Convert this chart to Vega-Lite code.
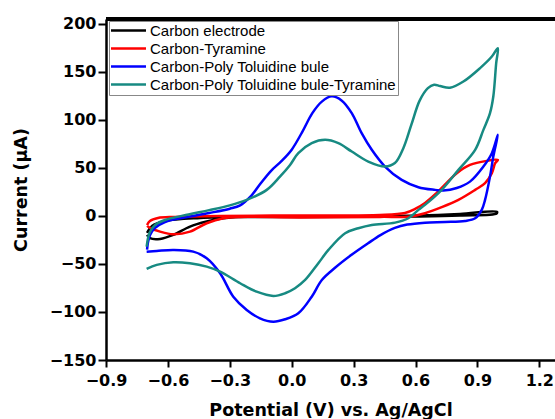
{
"$schema": "https://vega.github.io/schema/vega-lite/v6.json",
"width": 449, "height": 341,
"autosize": {"type": "none"},
"padding": {"left": 106, "top": 19, "right": 0, "bottom": 59},
"background": "white",
"config": {"view": {"stroke": null}},
"data": {"values": [
{"s":"Carbon electrode","o":1,"x":-0.701,"y":-17.7},
{"s":"Carbon electrode","o":2,"x":-0.677,"y":-10.4},
{"s":"Carbon electrode","o":3,"x":-0.614,"y":-5.2},
{"s":"Carbon electrode","o":4,"x":-0.444,"y":-2.1},
{"s":"Carbon electrode","o":5,"x":-0.154,"y":-1.0},
{"s":"Carbon electrode","o":6,"x":0.283,"y":-0.5},
{"s":"Carbon electrode","o":7,"x":0.622,"y":0.5},
{"s":"Carbon electrode","o":8,"x":0.816,"y":2.1},
{"s":"Carbon electrode","o":9,"x":0.995,"y":4.2},
{"s":"Carbon electrode","o":10,"x":0.993,"y":2.6},
{"s":"Carbon electrode","o":11,"x":0.816,"y":0.5},
{"s":"Carbon electrode","o":12,"x":0.622,"y":-0.5},
{"s":"Carbon electrode","o":13,"x":0.040,"y":-1.0},
{"s":"Carbon electrode","o":14,"x":-0.250,"y":-1.0},
{"s":"Carbon electrode","o":15,"x":-0.331,"y":-2.4},
{"s":"Carbon electrode","o":16,"x":-0.412,"y":-5.9},
{"s":"Carbon electrode","o":17,"x":-0.493,"y":-11.1},
{"s":"Carbon electrode","o":18,"x":-0.574,"y":-19.8},
{"s":"Carbon electrode","o":19,"x":-0.638,"y":-24.0},
{"s":"Carbon electrode","o":20,"x":-0.687,"y":-23.2},
{"s":"Carbon electrode","o":21,"x":-0.701,"y":-19.8},
{"s":"Carbon-Tyramine","o":1,"x":-0.701,"y":-9.4},
{"s":"Carbon-Tyramine","o":2,"x":-0.687,"y":-5.2},
{"s":"Carbon-Tyramine","o":3,"x":-0.648,"y":-2.1},
{"s":"Carbon-Tyramine","o":4,"x":-0.566,"y":-1.0},
{"s":"Carbon-Tyramine","o":5,"x":-0.347,"y":0},
{"s":"Carbon-Tyramine","o":6,"x":0.040,"y":0.5},
{"s":"Carbon-Tyramine","o":7,"x":0.428,"y":1.0},
{"s":"Carbon-Tyramine","o":8,"x":0.549,"y":3.1},
{"s":"Carbon-Tyramine","o":9,"x":0.598,"y":7.3},
{"s":"Carbon-Tyramine","o":10,"x":0.646,"y":13.5},
{"s":"Carbon-Tyramine","o":11,"x":0.703,"y":24.0},
{"s":"Carbon-Tyramine","o":12,"x":0.800,"y":44.5},
{"s":"Carbon-Tyramine","o":13,"x":0.864,"y":53.1},
{"s":"Carbon-Tyramine","o":14,"x":0.945,"y":57.3},
{"s":"Carbon-Tyramine","o":15,"x":0.999,"y":58.3},
{"s":"Carbon-Tyramine","o":16,"x":0.986,"y":54.9},
{"s":"Carbon-Tyramine","o":17,"x":0.970,"y":44.5},
{"s":"Carbon-Tyramine","o":18,"x":0.937,"y":34.1},
{"s":"Carbon-Tyramine","o":19,"x":0.889,"y":27.1},
{"s":"Carbon-Tyramine","o":20,"x":0.808,"y":16.7},
{"s":"Carbon-Tyramine","o":21,"x":0.727,"y":9.1},
{"s":"Carbon-Tyramine","o":22,"x":0.646,"y":2.8},
{"s":"Carbon-Tyramine","o":23,"x":0.574,"y":-0.5},
{"s":"Carbon-Tyramine","o":24,"x":0.428,"y":-1.0},
{"s":"Carbon-Tyramine","o":25,"x":0.040,"y":-1.6},
{"s":"Carbon-Tyramine","o":26,"x":-0.250,"y":-1.0},
{"s":"Carbon-Tyramine","o":27,"x":-0.331,"y":-2.4},
{"s":"Carbon-Tyramine","o":28,"x":-0.412,"y":-7.6},
{"s":"Carbon-Tyramine","o":29,"x":-0.493,"y":-16.4},
{"s":"Carbon-Tyramine","o":30,"x":-0.574,"y":-19.1},
{"s":"Carbon-Tyramine","o":31,"x":-0.638,"y":-16.4},
{"s":"Carbon-Tyramine","o":32,"x":-0.687,"y":-12.5},
{"s":"Carbon-Tyramine","o":33,"x":-0.701,"y":-10.4},
{"s":"Carbon-Poly Toluidine bule","o":1,"x":-0.701,"y":-35},
{"s":"Carbon-Poly Toluidine bule","o":2,"x":-0.696,"y":-27},
{"s":"Carbon-Poly Toluidine bule","o":3,"x":-0.687,"y":-20},
{"s":"Carbon-Poly Toluidine bule","o":4,"x":-0.662,"y":-12.5},
{"s":"Carbon-Poly Toluidine bule","o":5,"x":-0.614,"y":-6.3},
{"s":"Carbon-Poly Toluidine bule","o":6,"x":-0.5,"y":-1},
{"s":"Carbon-Poly Toluidine bule","o":7,"x":-0.4,"y":3},
{"s":"Carbon-Poly Toluidine bule","o":8,"x":-0.3,"y":7.5},
{"s":"Carbon-Poly Toluidine bule","o":9,"x":-0.25,"y":11},
{"s":"Carbon-Poly Toluidine bule","o":10,"x":-0.2,"y":20},
{"s":"Carbon-Poly Toluidine bule","o":11,"x":-0.15,"y":34},
{"s":"Carbon-Poly Toluidine bule","o":12,"x":-0.1,"y":47},
{"s":"Carbon-Poly Toluidine bule","o":13,"x":-0.05,"y":57},
{"s":"Carbon-Poly Toluidine bule","o":14,"x":0.0,"y":69},
{"s":"Carbon-Poly Toluidine bule","o":15,"x":0.05,"y":87},
{"s":"Carbon-Poly Toluidine bule","o":16,"x":0.1,"y":107},
{"s":"Carbon-Poly Toluidine bule","o":17,"x":0.146,"y":119},
{"s":"Carbon-Poly Toluidine bule","o":18,"x":0.194,"y":124.5},
{"s":"Carbon-Poly Toluidine bule","o":19,"x":0.243,"y":120},
{"s":"Carbon-Poly Toluidine bule","o":20,"x":0.291,"y":107},
{"s":"Carbon-Poly Toluidine bule","o":21,"x":0.339,"y":86.1},
{"s":"Carbon-Poly Toluidine bule","o":22,"x":0.388,"y":68.8},
{"s":"Carbon-Poly Toluidine bule","o":23,"x":0.452,"y":51.4},
{"s":"Carbon-Poly Toluidine bule","o":24,"x":0.533,"y":37.5},
{"s":"Carbon-Poly Toluidine bule","o":25,"x":0.614,"y":29.9},
{"s":"Carbon-Poly Toluidine bule","o":26,"x":0.695,"y":27.1},
{"s":"Carbon-Poly Toluidine bule","o":27,"x":0.735,"y":26.4},
{"s":"Carbon-Poly Toluidine bule","o":28,"x":0.800,"y":29},
{"s":"Carbon-Poly Toluidine bule","o":29,"x":0.864,"y":35.7},
{"s":"Carbon-Poly Toluidine bule","o":30,"x":0.929,"y":51.4},
{"s":"Carbon-Poly Toluidine bule","o":31,"x":0.970,"y":65.3},
{"s":"Carbon-Poly Toluidine bule","o":32,"x":0.999,"y":84.4},
{"s":"Carbon-Poly Toluidine bule","o":33,"x":0.977,"y":61.8},
{"s":"Carbon-Poly Toluidine bule","o":34,"x":0.961,"y":40.9},
{"s":"Carbon-Poly Toluidine bule","o":35,"x":0.937,"y":16.7},
{"s":"Carbon-Poly Toluidine bule","o":36,"x":0.921,"y":6.3},
{"s":"Carbon-Poly Toluidine bule","o":37,"x":0.889,"y":-2.4},
{"s":"Carbon-Poly Toluidine bule","o":38,"x":0.840,"y":-5.2},
{"s":"Carbon-Poly Toluidine bule","o":39,"x":0.743,"y":-6.3},
{"s":"Carbon-Poly Toluidine bule","o":40,"x":0.646,"y":-7.0},
{"s":"Carbon-Poly Toluidine bule","o":41,"x":0.560,"y":-9},
{"s":"Carbon-Poly Toluidine bule","o":42,"x":0.500,"y":-12.5},
{"s":"Carbon-Poly Toluidine bule","o":43,"x":0.430,"y":-20},
{"s":"Carbon-Poly Toluidine bule","o":44,"x":0.370,"y":-28.5},
{"s":"Carbon-Poly Toluidine bule","o":45,"x":0.290,"y":-40.5},
{"s":"Carbon-Poly Toluidine bule","o":46,"x":0.210,"y":-54},
{"s":"Carbon-Poly Toluidine bule","o":47,"x":0.146,"y":-66.7},
{"s":"Carbon-Poly Toluidine bule","o":48,"x":0.097,"y":-84.1},
{"s":"Carbon-Poly Toluidine bule","o":49,"x":0.032,"y":-101.4},
{"s":"Carbon-Poly Toluidine bule","o":50,"x":-0.032,"y":-107.6},
{"s":"Carbon-Poly Toluidine bule","o":51,"x":-0.089,"y":-110.1},
{"s":"Carbon-Poly Toluidine bule","o":52,"x":-0.154,"y":-106.6},
{"s":"Carbon-Poly Toluidine bule","o":53,"x":-0.218,"y":-97.9},
{"s":"Carbon-Poly Toluidine bule","o":54,"x":-0.283,"y":-84.1},
{"s":"Carbon-Poly Toluidine bule","o":55,"x":-0.347,"y":-59.7},
{"s":"Carbon-Poly Toluidine bule","o":56,"x":-0.412,"y":-44.1},
{"s":"Carbon-Poly Toluidine bule","o":57,"x":-0.477,"y":-37.2},
{"s":"Carbon-Poly Toluidine bule","o":58,"x":-0.574,"y":-35.4},
{"s":"Carbon-Poly Toluidine bule","o":59,"x":-0.654,"y":-36.5},
{"s":"Carbon-Poly Toluidine bule","o":60,"x":-0.703,"y":-37.2},
{"s":"Carbon-Poly Toluidine bule-Tyramine","o":1,"x":-0.703,"y":-32.0},
{"s":"Carbon-Poly Toluidine bule-Tyramine","o":2,"x":-0.696,"y":-22.9},
{"s":"Carbon-Poly Toluidine bule-Tyramine","o":3,"x":-0.687,"y":-16.7},
{"s":"Carbon-Poly Toluidine bule-Tyramine","o":4,"x":-0.662,"y":-9.4},
{"s":"Carbon-Poly Toluidine bule-Tyramine","o":5,"x":-0.614,"y":-4.2},
{"s":"Carbon-Poly Toluidine bule-Tyramine","o":6,"x":-0.5,"y":1.5},
{"s":"Carbon-Poly Toluidine bule-Tyramine","o":7,"x":-0.4,"y":6},
{"s":"Carbon-Poly Toluidine bule-Tyramine","o":8,"x":-0.3,"y":11},
{"s":"Carbon-Poly Toluidine bule-Tyramine","o":9,"x":-0.218,"y":16.7},
{"s":"Carbon-Poly Toluidine bule-Tyramine","o":10,"x":-0.121,"y":27.1},
{"s":"Carbon-Poly Toluidine bule-Tyramine","o":11,"x":-0.057,"y":40.9},
{"s":"Carbon-Poly Toluidine bule-Tyramine","o":12,"x":-0.008,"y":53.1},
{"s":"Carbon-Poly Toluidine bule-Tyramine","o":13,"x":0.032,"y":65.3},
{"s":"Carbon-Poly Toluidine bule-Tyramine","o":14,"x":0.097,"y":75.7},
{"s":"Carbon-Poly Toluidine bule-Tyramine","o":15,"x":0.162,"y":79.2},
{"s":"Carbon-Poly Toluidine bule-Tyramine","o":16,"x":0.226,"y":75.7},
{"s":"Carbon-Poly Toluidine bule-Tyramine","o":17,"x":0.291,"y":67.0},
{"s":"Carbon-Poly Toluidine bule-Tyramine","o":18,"x":0.371,"y":56.6},
{"s":"Carbon-Poly Toluidine bule-Tyramine","o":19,"x":0.452,"y":51.4},
{"s":"Carbon-Poly Toluidine bule-Tyramine","o":20,"x":0.50,"y":55},
{"s":"Carbon-Poly Toluidine bule-Tyramine","o":21,"x":0.54,"y":70},
{"s":"Carbon-Poly Toluidine bule-Tyramine","o":22,"x":0.58,"y":95},
{"s":"Carbon-Poly Toluidine bule-Tyramine","o":23,"x":0.62,"y":120},
{"s":"Carbon-Poly Toluidine bule-Tyramine","o":24,"x":0.66,"y":133},
{"s":"Carbon-Poly Toluidine bule-Tyramine","o":25,"x":0.690,"y":136.5},
{"s":"Carbon-Poly Toluidine bule-Tyramine","o":26,"x":0.719,"y":135.2},
{"s":"Carbon-Poly Toluidine bule-Tyramine","o":27,"x":0.767,"y":133.5},
{"s":"Carbon-Poly Toluidine bule-Tyramine","o":28,"x":0.832,"y":139.9},
{"s":"Carbon-Poly Toluidine bule-Tyramine","o":29,"x":0.913,"y":153.9},
{"s":"Carbon-Poly Toluidine bule-Tyramine","o":30,"x":0.970,"y":165.9},
{"s":"Carbon-Poly Toluidine bule-Tyramine","o":31,"x":0.999,"y":174.7},
{"s":"Carbon-Poly Toluidine bule-Tyramine","o":32,"x":0.991,"y":159.1},
{"s":"Carbon-Poly Toluidine bule-Tyramine","o":33,"x":0.977,"y":124.3},
{"s":"Carbon-Poly Toluidine bule-Tyramine","o":34,"x":0.961,"y":107.0},
{"s":"Carbon-Poly Toluidine bule-Tyramine","o":35,"x":0.929,"y":89.6},
{"s":"Carbon-Poly Toluidine bule-Tyramine","o":36,"x":0.889,"y":68.8},
{"s":"Carbon-Poly Toluidine bule-Tyramine","o":37,"x":0.808,"y":47.9},
{"s":"Carbon-Poly Toluidine bule-Tyramine","o":38,"x":0.727,"y":27.1},
{"s":"Carbon-Poly Toluidine bule-Tyramine","o":39,"x":0.646,"y":11.5},
{"s":"Carbon-Poly Toluidine bule-Tyramine","o":40,"x":0.614,"y":6.3},
{"s":"Carbon-Poly Toluidine bule-Tyramine","o":41,"x":0.565,"y":-2.4},
{"s":"Carbon-Poly Toluidine bule-Tyramine","o":42,"x":0.501,"y":-7.0},
{"s":"Carbon-Poly Toluidine bule-Tyramine","o":43,"x":0.388,"y":-9.4},
{"s":"Carbon-Poly Toluidine bule-Tyramine","o":44,"x":0.323,"y":-12.8},
{"s":"Carbon-Poly Toluidine bule-Tyramine","o":45,"x":0.259,"y":-18.0},
{"s":"Carbon-Poly Toluidine bule-Tyramine","o":46,"x":0.178,"y":-35.4},
{"s":"Carbon-Poly Toluidine bule-Tyramine","o":47,"x":0.129,"y":-49.3},
{"s":"Carbon-Poly Toluidine bule-Tyramine","o":48,"x":0.065,"y":-66.7},
{"s":"Carbon-Poly Toluidine bule-Tyramine","o":49,"x":0.016,"y":-75.3},
{"s":"Carbon-Poly Toluidine bule-Tyramine","o":50,"x":-0.032,"y":-80.5},
{"s":"Carbon-Poly Toluidine bule-Tyramine","o":51,"x":-0.089,"y":-83.3},
{"s":"Carbon-Poly Toluidine bule-Tyramine","o":52,"x":-0.170,"y":-78.9},
{"s":"Carbon-Poly Toluidine bule-Tyramine","o":53,"x":-0.250,"y":-70.1},
{"s":"Carbon-Poly Toluidine bule-Tyramine","o":54,"x":-0.347,"y":-58.0},
{"s":"Carbon-Poly Toluidine bule-Tyramine","o":55,"x":-0.412,"y":-52.8},
{"s":"Carbon-Poly Toluidine bule-Tyramine","o":56,"x":-0.493,"y":-49.3},
{"s":"Carbon-Poly Toluidine bule-Tyramine","o":57,"x":-0.574,"y":-48.2},
{"s":"Carbon-Poly Toluidine bule-Tyramine","o":58,"x":-0.654,"y":-51.0},
{"s":"Carbon-Poly Toluidine bule-Tyramine","o":59,"x":-0.703,"y":-55.2}
]},
"layer": [
{
"mark": {"type": "line", "interpolate": "catmull-rom", "strokeWidth": 2.5},
"encoding": {
"x": {"field": "x", "type": "quantitative",
 "scale": {"domain": [-0.9, 1.276], "nice": false, "zero": false},
 "axis": {"values": [-0.9,-0.6,-0.3,0,0.3,0.6,0.9,1.2], "format": ".1f", "grid": false, "labelFlush": false,
  "labelFont": "DejaVu Sans", "labelFontWeight": "bold", "labelFontSize": 16, "labelColor": "black", "labelPadding": 5,
  "tickSize": 7, "tickWidth": 2, "tickColor": "black", "domainColor": "black", "domainWidth": 2.5,
  "title": "Potential (V) vs. Ag/AgCl", "titleFont": "DejaVu Sans", "titleFontSize": 17.5, "titleFontWeight": "bold", "titleColor": "black", "titlePadding": 13}},
"y": {"field": "y", "type": "quantitative",
 "scale": {"domain": [-150, 205], "nice": false, "zero": false},
 "axis": {"values": [-150,-100,-50,0,50,100,150,200], "grid": false, "labelFlush": false,
  "labelFont": "DejaVu Sans", "labelFontWeight": "bold", "labelFontSize": 16, "labelColor": "black", "labelPadding": 2,
  "tickSize": 8, "tickWidth": 2, "tickColor": "black", "domainColor": "black", "domainWidth": 2.5,
  "title": "Current (μA)", "titleFont": "DejaVu Sans", "titleFontSize": 17.5, "titleFontWeight": "bold", "titleColor": "black", "titlePadding": 19}},
"color": {"field": "s", "type": "nominal",
 "scale": {"domain": ["Carbon electrode", "Carbon-Tyramine", "Carbon-Poly Toluidine bule", "Carbon-Poly Toluidine bule-Tyramine"],
  "range": ["#000000", "#ff0000", "#0000ff", "#178a82"]},
 "legend": {"orient": "none", "legendX": 3, "legendY": 2, "title": null,
  "labelFont": "Liberation Sans", "labelFontSize": 15, "labelColor": "black", "labelLimit": 400,
  "symbolType": "M-3,0H3", "symbolSize": 136, "symbolStrokeWidth": 2.5, "symbolOffset": 10, "labelOffset": 14,
  "padding": 2, "rowPadding": 2, "strokeColor": "#888888", "fillColor": "white"}},
"order": {"field": "o", "type": "quantitative"}
}
},
{
"mark": {"type": "rule", "color": "black", "strokeWidth": 2.5},
"encoding": {"y": {"datum": 205}}
}
]
}
